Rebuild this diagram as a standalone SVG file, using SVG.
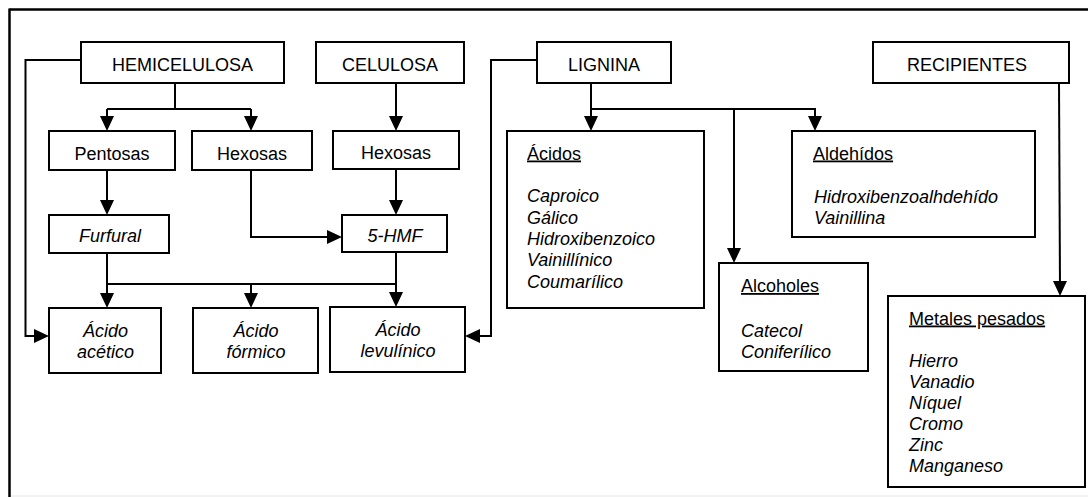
<svg xmlns="http://www.w3.org/2000/svg" width="1088" height="497" viewBox="0 0 1088 497">
<style>
text{font-family:"Liberation Sans",Arial,sans-serif;font-size:18px;fill:#000}
.c{text-anchor:middle}
.i{font-style:italic}
.u{text-decoration:underline}
.box{fill:#fff;stroke:#000;stroke-width:2}
.ln{fill:none;stroke:#000;stroke-width:2}
</style>
<defs>
<marker id="ah" markerUnits="userSpaceOnUse" markerWidth="16" markerHeight="14" refX="7" refY="7" orient="auto">
<path d="M0,0 L15,7 L0,14 Z" fill="#000"/>
</marker>
</defs>
<rect x="0" y="0" width="1088" height="497" fill="#fff"/>
<g id="frame">
<line x1="9.5" y1="9.5" x2="1088" y2="9.5" stroke="#000" stroke-width="2.5"/>
<line x1="9.5" y1="8.5" x2="9.5" y2="497" stroke="#000" stroke-width="2.5"/>
<line x1="11" y1="496" x2="1088" y2="496" stroke="#e6e6e6" stroke-width="1"/>
</g>
<g id="connectors" class="ln">
<path class="ln" d="M81,60 H25.5 V336 H41" marker-end="url(#ah)"/>
<path class="ln" d="M175,83 V109 M107,109 H251"/>
<path class="ln" d="M107,109 V123" marker-end="url(#ah)"/>
<path class="ln" d="M251,109 V123" marker-end="url(#ah)"/>
<path class="ln" d="M396,83 V123" marker-end="url(#ah)"/>
<path class="ln" d="M396,169 V207" marker-end="url(#ah)"/>
<path class="ln" d="M107,170 V207" marker-end="url(#ah)"/>
<path class="ln" d="M251,170 V237 H334" marker-end="url(#ah)"/>
<path class="ln" d="M107,253 V300" marker-end="url(#ah)"/>
<path class="ln" d="M107,284 H396"/>
<path class="ln" d="M251,284 V300" marker-end="url(#ah)"/>
<path class="ln" d="M396,252 V299" marker-end="url(#ah)"/>
<path class="ln" d="M537,60 H491 V336 H473" marker-end="url(#ah)"/>
<path class="ln" d="M591,83 V123" marker-end="url(#ah)"/>
<path class="ln" d="M591,109 H815 V123" marker-end="url(#ah)"/>
<path class="ln" d="M734,109 V255" marker-end="url(#ah)"/>
<path class="ln" d="M1059,83 L1060,288" marker-end="url(#ah)"/>
</g>
<g id="hemicelulosa"><rect class="box" x="81" y="42" width="203" height="41"/><text class="c" x="182.5" y="71">HEMICELULOSA</text></g>
<g id="celulosa"><rect class="box" x="316" y="42" width="148" height="41"/><text class="c" x="390" y="71">CELULOSA</text></g>
<g id="lignina"><rect class="box" x="537" y="42" width="134" height="41"/><text class="c" x="604" y="71">LIGNINA</text></g>
<g id="recipientes"><rect class="box" x="873" y="42" width="196" height="41"/><text class="c" x="967" y="71">RECIPIENTES</text></g>
<g id="pentosas"><rect class="box" x="49" y="131" width="126" height="39"/><text class="c" x="112" y="160">Pentosas</text></g>
<g id="hexosas1"><rect class="box" x="192" y="131" width="120" height="39"/><text class="c" x="252" y="160">Hexosas</text></g>
<g id="hexosas2"><rect class="box" x="333" y="131" width="126" height="38"/><text class="c" x="396" y="159">Hexosas</text></g>
<g id="furfural"><rect class="box" x="49" y="215" width="120" height="38"/><text class="c i" x="110" y="242">Furfural</text></g>
<g id="hmf"><rect class="box" x="342" y="215" width="105" height="37"/><text class="c i" x="395" y="242">5-HMF</text></g>
<g id="acetico"><rect class="box" x="49" y="308" width="112" height="65"/><text class="c i" x="105.5" y="337">Ácido</text><text class="c i" x="105.5" y="358">acético</text></g>
<g id="formico"><rect class="box" x="193" y="308" width="125" height="65"/><text class="c i" x="256" y="337">Ácido</text><text class="c i" x="256" y="358">fórmico</text></g>
<g id="levulinico"><rect class="box" x="330" y="307" width="135" height="65"/><text class="c i" x="398" y="336">Ácido</text><text class="c i" x="398" y="357">levulínico</text></g>
<g id="acidos"><rect class="box" x="507" y="131" width="197" height="177"/>
<text class="u" x="527" y="159.5">Ácidos</text>
<text class="i" x="527" y="202">Caproico</text>
<text class="i" x="527" y="223.5">Gálico</text>
<text class="i" x="527" y="245">Hidroxibenzoico</text>
<text class="i" x="527" y="266">Vainillínico</text>
<text class="i" x="527" y="287.5">Coumarílico</text></g>
<g id="aldehidos"><rect class="box" x="792" y="131" width="243" height="106"/>
<text class="u" x="813" y="159.5">Aldehídos</text>
<text class="i" x="814" y="203">Hidroxibenzoalhdehído</text>
<text class="i" x="814" y="224">Vainillina</text></g>
<g id="alcoholes"><rect class="box" x="719" y="263" width="149" height="108"/>
<text class="u" x="741" y="292">Alcoholes</text>
<text class="i" x="741" y="337">Catecol</text>
<text class="i" x="741" y="358">Coniferílico</text></g>
<g id="metales"><rect class="box" x="888" y="296" width="197" height="191"/>
<text class="u" x="909" y="324.5">Metales pesados</text>
<text class="i" x="909" y="367">Hierro</text>
<text class="i" x="909" y="388">Vanadio</text>
<text class="i" x="909" y="409">Níquel</text>
<text class="i" x="909" y="430">Cromo</text>
<text class="i" x="909" y="451">Zinc</text>
<text class="i" x="909" y="472">Manganeso</text></g>
</svg>
